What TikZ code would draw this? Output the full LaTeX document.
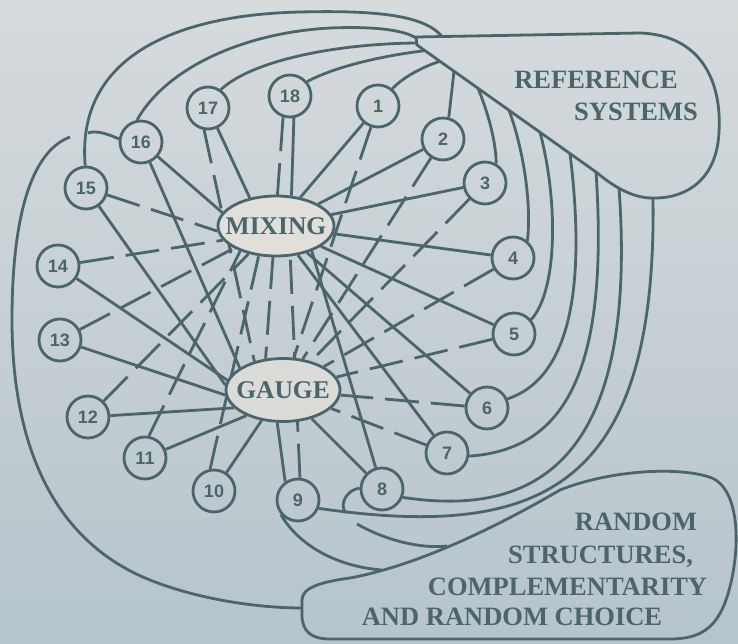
\documentclass[tikz,border=0pt]{standalone}
\usepackage{fontspec}
\setmainfont{Liberation Serif}
\newfontfamily\numfont{Liberation Sans}
\usepackage{tikz}
\usetikzlibrary{shapes.geometric}

\definecolor{ink}{RGB}{74,101,107}
\definecolor{paperTop}{RGB}{214,219,220}
\definecolor{paperMid}{RGB}{227,225,219}
\definecolor{paperBot}{RGB}{182,196,204}
\definecolor{paperMix}{RGB}{224,223,218}
\definecolor{paperGau}{RGB}{219,219,215}

\pgfdeclarelayer{back}
\pgfdeclarelayer{links}
\pgfsetlayers{back,links,main}

\tikzset{
num/.style={shape=circle, draw=ink, line width=2.8pt, minimum size=42pt, inner sep=0pt, text=ink, font=\numfont\bfseries\fontsize{18}{18}\selectfont},
hub/.style={shape=ellipse, draw=ink, line width=2.8pt, inner sep=0pt, text=ink, font=\bfseries\fontsize{25.5}{25.5}\selectfont},
link/.style={draw=ink, line width=2.8pt},
dashlink/.style={link, dash pattern=on 34pt off 12pt},
blob/.style={draw=ink, line width=2.8pt},
title/.style={text=ink, font=\bfseries\fontsize{26.5}{26.5}\selectfont, anchor=base, inner sep=0pt}
}

\begin{document}
\begin{tikzpicture}[x=1pt, y=-1pt]
    \useasboundingbox (0,0) rectangle (738,644);
    \begin{pgfonlayer}{back}
        \shade[top color=paperTop, middle color=paperMid, bottom color=paperBot] (0,0) rectangle (738,644);
    \end{pgfonlayer}

                \node[hub, fill=paperMix, minimum width=116pt, minimum height=60pt] (mix) at (276,226) {\makebox[0pt]{MIXING}};
                \node[hub, fill=paperGau, minimum width=114pt, minimum height=63pt] (gau) at (283,390) {\makebox[0pt]{GAUGE}};

                \node[num] (n1) at (378,106) {1};
                \node[num] (n2) at (443,139) {2};
                \node[num] (n3) at (485,183) {3};
                \node[num] (n4) at (513,258) {4};
                \node[num] (n5) at (514,334) {5};
                \node[num] (n6) at (487,408) {6};
                \node[num] (n7) at (447,453) {7};
                \node[num] (n8) at (382,489) {8};
                \node[num] (n9) at (298,500) {9};
                \node[num] (n10) at (214,491) {10};
                \node[num] (n11) at (145,458) {11};
                \node[num] (n12) at (88,417) {12};
                \node[num] (n13) at (60,340) {13};
                \node[num] (n14) at (58,266) {14};
                \node[num] (n15) at (86,188) {15};
                \node[num] (n16) at (141,142) {16};
                \node[num] (n17) at (208,108) {17};
                \node[num] (n18) at (290,96) {18};

                % reference systems
                \coordinate (tipA) at (416,38);
                \coordinate (tipB) at (416,43);
                \coordinate (rA) at (442,36.5);
                \coordinate (rD) at (425,50.7);
                \coordinate (rE) at (440,61.3);
                \coordinate (r2) at (454,71.3);
                \coordinate (r3) at (478,88.3);
                \coordinate (r4) at (509,110.3);
                \coordinate (r5) at (540,132.3);
                \coordinate (r6) at (570,153.6);
                \coordinate (r7) at (596,172);
                \coordinate (r8) at (619,188);
                \coordinate (r9) at (653,198);
                \draw[blob] (416,37) -- (640,33) .. controls (700,35) and (722,80) .. (719,132)
                    .. controls (717,178) and (688,198) .. (655,198) .. controls (635,199) and (615,188) .. (r7)
                    -- (417,45) -- cycle;
                \node[title] (ref1) at (596,88.8) {REFERENCE};
                \node[title] (ref2) at (636,120.8) {SYSTEMS};

                % random structures
                \coordinate (rn9) at (382,570);
                \coordinate (rn8) at (447,546);
                \coordinate (rn16) at (302,608);
                \coordinate (b8a) at (346,513);
                \coordinate (b8b) at (357,524);
                \coordinate (b16a) at (88,133);
                \coordinate (b16b) at (70,137);
                \draw[blob] (302,600) .. controls (302,588) and (320,582) .. (350,578)
                    .. controls (420,565) and (500,525) .. (560,490) .. controls (610,470) and (680,466) .. (712,478)
                    .. controls (743,492) and (740,560) .. (726,600) .. controls (716,628) and (700,639) .. (670,639)
                    -- (330,639) .. controls (312,639) and (302,632) .. (302,615) -- cycle;
                \node[title] (rnd1) at (636,530.8) {RANDOM};
                \node[title] (rnd2) at (600.5,563.8) {STRUCTURES,};
                \node[title] (rnd3) at (567.5,595.8) {COMPLEMENTARITY};
                \node[title] (rnd4) at (512,625.8) {AND RANDOM CHOICE};

    \begin{pgfonlayer}{links}
                \draw[link] (n1) -- (mix);
                \draw[link] (n2) -- (mix);
                \draw[link] (n3) -- (mix);
                \draw[link] (n4) -- (mix);
                \draw[link] (n5) -- (mix);
                \draw[link] (n6) -- (mix);
                \draw[link] (n7) -- (mix);
                \draw[link] (n8) -- (mix.-35);
                \draw[link] (n16) -- (mix.166);
                \draw[link] (n17.-65) -- (mix.133);
                \draw[link] (n18.-80) -- (mix.63);
                \draw[dashlink] (n9.85) -- (mix.-65);
                \draw[dashlink] (n10.100) -- (mix.-120);
                \draw[dashlink] (n11.80) -- (mix.215);
                \draw[dashlink] (n12) -- (mix);
                \draw[dashlink] (n13) -- (mix);
                \draw[dashlink] (n14) -- (mix.195);
                \draw[dashlink] (n15) -- (mix.185);

                \draw[link] (n8) -- (gau);
                \draw[link] (n9.125) -- (gau.-100);
                \draw[link] (n10) -- (gau.235);
                \draw[link] (n11) -- (gau.215);
                \draw[link] (n12) -- (gau.200);
                \draw[link] (n13) -- (gau.185);
                \draw[link] (n14) -- (gau.170);
                \draw[link] (n15) -- (gau.175);
                \draw[link] (n16) -- (gau.153);
                \draw[dashlink] (n1) -- (gau);
                \draw[dashlink] (n2) -- (gau);
                \draw[dashlink] (n3) -- (gau);
                \draw[dashlink] (n4) -- (gau);
                \draw[dashlink] (n5) -- (gau);
                \draw[dashlink] (n6) -- (gau);
                \draw[dashlink] (n7) -- (gau);
                \draw[dashlink] (n17.-100) -- (gau.135);
                \draw[dashlink] (n18.-108) -- (gau.119);

                % arcs to reference systems
                \draw[link] (n15.92) .. controls (76,60) and (170,15) .. (300,12) .. controls (380,10) and (425,16) .. (rA);
                \draw[link] (n16.100) .. controls (165,70) and (240,33) .. (330,28) .. controls (380,26) and (405,31) .. (tipA);
                \draw[link] (n17.55) .. controls (250,62) and (330,44) .. (tipB);
                \draw[link] (n18.40) .. controls (340,64) and (395,54) .. (rD);
                \draw[link] (n1.50) .. controls (402,78) and (422,67) .. (rE);
                \draw[link] (r2) -- (n2.75);
                \draw[link] (r3) .. controls (487,110) and (496,140) .. (n3.60);
                \draw[link] (r4) .. controls (522,145) and (532,200) .. (n4.50);
                \draw[link] (r5) .. controls (558,200) and (558,290) .. (n5.40);
                \draw[link] (r6) .. controls (588,300) and (565,380) .. (n6.24);
                \draw[link] (r7) .. controls (610,380) and (560,450) .. (n7.-8);
                \draw[link] (r8) .. controls (640,480) and (520,515) .. (n8.-22);
                \draw[link] (r9) .. controls (657,490) and (540,540) .. (n9.-22);

                % arcs to random structures
                \draw[link] (n9.-140) .. controls (295,540) and (330,566) .. (rn9);
                \draw[link] (n8.178) .. controls (348,489) and (338,504) .. (b8a);
                \draw[link] (b8b) .. controls (385,540) and (420,549) .. (rn8);
                \draw[link] (n16.172) .. controls (108,134) and (96,130) .. (b16a);
                \draw[link] (b16b) .. controls (30,152) and (12,220) .. (12,320) .. controls (12,440) and (50,540) .. (150,580)
                    .. controls (200,600) and (260,608) .. (rn16);
    \end{pgfonlayer}

            \end{tikzpicture}
\end{document}
